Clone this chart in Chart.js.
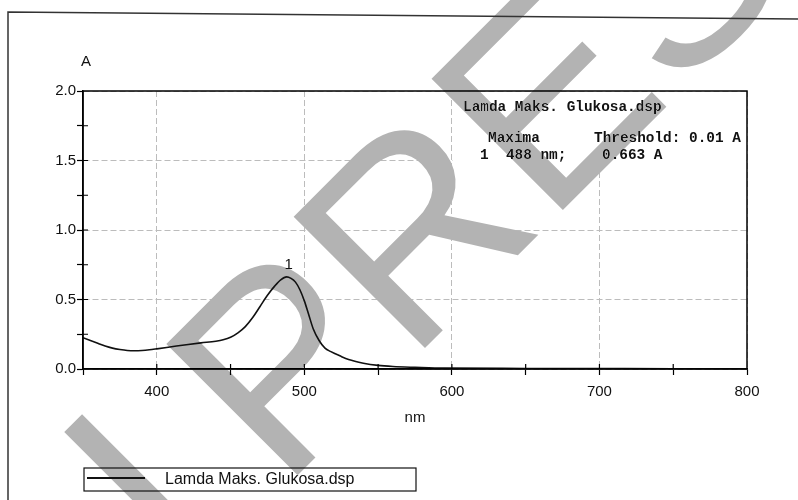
<!DOCTYPE html>
<html>
<head>
<meta charset="utf-8">
<script src="https://cdn.jsdelivr.net/npm/chart.js@4.4.1/dist/chart.umd.min.js"></script>
<style>
  body { margin: 0; background: #fff; }
  canvas { display: block; }
</style>
</head>
<body>
<canvas id="spectrum" width="798" height="500"></canvas>
<script>
// Spectrum data (nm vs absorbance)
const wavelengths = [350, 355, 360, 365, 370, 375, 380, 385, 390, 395, 400, 410, 420, 430, 440, 445, 450, 455, 460, 465, 470, 475, 480, 484, 488, 491, 494, 497, 500, 503, 506, 510, 514, 518, 524, 530, 540, 550, 560, 575, 595, 650, 700, 750, 800];
const absorbance = [0.225, 0.205, 0.185, 0.165, 0.150, 0.140, 0.133, 0.131, 0.133, 0.138, 0.145, 0.160, 0.175, 0.188, 0.200, 0.210, 0.228, 0.26, 0.305, 0.37, 0.45, 0.53, 0.598, 0.642, 0.663, 0.652, 0.625, 0.57, 0.49, 0.39, 0.29, 0.205, 0.15, 0.125, 0.095, 0.068, 0.042, 0.026, 0.018, 0.012, 0.006, 0.004, 0.003, 0.002, 0.002];
const seriesLabel = "Lamda Maks. Glukosa.dsp";

const peakNm = [488];
const peakAbs = [0.663];
const peakLabels = ["1"];

const infoTitle = "Lamda Maks. Glukosa.dsp";
const infoRow1 = ["Maxima", "Threshold: 0.01 A"];
const infoRow2 = ["1  488 nm;", "0.663 A"];

const xMin = 350, xMax = 800, xStep = 50;
const yMin = 0, yMax = 2, yStep = 0.25;

const points = wavelengths.map((w, i) => ({ x: w, y: absorbance[i] }));

const FONT = '"Liberation Sans", Arial, sans-serif';
const MONO = '"Liberation Mono", "Courier New", monospace';

// major ticks get gridlines, minor ones only a tick mark
function gridColor(major) {
    return (c) => (c.tick && c.tick.value % major === 0) ? '#bcbcbc' : 'transparent';
}

function watermark(ctx, text, ox, oy) {
    ctx.save();
    ctx.translate(ox, oy);
    ctx.rotate(-Math.PI / 4);
    ctx.fillText(text, 0, 0);
    ctx.restore();
}

const decorations = {
    id: 'decorations',
    beforeDatasetsDraw(chart) {
        const { ctx, chartArea, scales } = chart;
        // white panel behind the maxima text (hides grid there)
        const x0 = scales.x.getPixelForValue(600) + 1;
        ctx.save();
        ctx.fillStyle = '#fff';
        ctx.fillRect(x0, chartArea.top + 1, chartArea.right - x0 - 1, 74);
        ctx.restore();
    },
    afterDraw(chart) {
        const { ctx, chartArea, scales } = chart;
        const xs = scales.x, ys = scales.y;
        ctx.save();

        // outer page frame
        ctx.strokeStyle = '#333';
        ctx.lineWidth = 1.5;
        ctx.beginPath();
        ctx.moveTo(8, 500);
        ctx.lineTo(8, 12);
        ctx.lineTo(798, 19);
        ctx.stroke();

        // plot box
        ctx.strokeStyle = '#000';
        ctx.lineWidth = 1.5;
        ctx.strokeRect(chartArea.left, chartArea.top, chartArea.right - chartArea.left, chartArea.bottom - chartArea.top);

        // inner halves of tick marks
        ctx.lineWidth = 1.2;
        ctx.beginPath();
        for (let v = yMin + yStep; v < yMax; v += yStep) {
            const py = ys.getPixelForValue(v);
            ctx.moveTo(chartArea.left, py);
            ctx.lineTo(chartArea.left + 5, py);
        }
        for (let v = xMin + xStep; v < xMax; v += xStep) {
            const px = xs.getPixelForValue(v);
            ctx.moveTo(px, chartArea.bottom);
            ctx.lineTo(px, chartArea.bottom - 5);
        }
        ctx.stroke();

        // axis titles
        ctx.fillStyle = '#111';
        ctx.font = '15px ' + FONT;
        ctx.textAlign = 'center';
        ctx.textBaseline = 'middle';
        ctx.fillText('A', 86, 62);
        ctx.fillText('nm', 415, 418);

        // peak labels
        peakNm.forEach((w, i) => {
            ctx.fillText(peakLabels[i], xs.getPixelForValue(w) + 2, ys.getPixelForValue(peakAbs[i]) - 12);
        });

        // maxima text block
        ctx.font = 'bold 14.4px ' + MONO;
        ctx.textAlign = 'left';
        ctx.fillText(infoTitle, 463, 107);
        ctx.fillText(infoRow1[0], 488, 138);
        ctx.fillText(infoRow1[1], 594, 138);
        ctx.fillText(infoRow2[0], 480, 155);
        ctx.fillText(infoRow2[1], 602, 155);

        // legend box
        ctx.strokeStyle = '#111';
        ctx.lineWidth = 1.2;
        ctx.strokeRect(84, 468, 332, 23);
        ctx.lineWidth = 1.8;
        ctx.beginPath();
        ctx.moveTo(87, 478);
        ctx.lineTo(145, 478);
        ctx.stroke();
        ctx.font = '16px ' + FONT;
        ctx.fillText(chart.data.datasets[0].label, 165, 480);

        // watermark, darkened over the drawing like the scan
        ctx.globalCompositeOperation = 'darken';
        ctx.fillStyle = '#b3b3b3';
        ctx.font = '270px ' + FONT;
        ctx.textAlign = 'left';
        ctx.textBaseline = 'alphabetic';
        watermark(ctx, 'I', 178, 581);
        watermark(ctx, 'PRES', 282, 491);

        ctx.restore();
    }
};

new Chart(document.getElementById('spectrum'), {
    type: 'line',
    data: {
        datasets: [{
            label: seriesLabel,
            data: points,
            borderColor: '#111',
            borderWidth: 1.6,
            pointRadius: 0,
            tension: 0.4,
            cubicInterpolationMode: 'monotone',
            fill: false
        }]
    },
    options: {
        responsive: false,
        animation: false,
        layout: { padding: { top: 91, right: 51, left: 0, bottom: 0 } },
        plugins: {
            legend: { display: false },
            tooltip: { enabled: false }
        },
        scales: {
            x: {
                type: 'linear',
                min: xMin,
                max: xMax,
                afterFit: (s) => { s.height = 131; },
                ticks: {
                    stepSize: xStep,
                    autoSkip: false,
                    maxRotation: 0,
                    color: '#111',
                    font: { size: 15, family: FONT },
                    padding: 8,
                    callback: (v) => (v % 100 === 0 && v !== xMin) ? String(v) : ''
                },
                grid: { color: gridColor(100), lineWidth: 1, tickColor: '#000', tickLength: 6, tickWidth: 1.2 },
                border: { color: '#000', width: 1.5, dash: [6, 3] }
            },
            y: {
                min: yMin,
                max: yMax,
                afterFit: (s) => { s.width = 83; },
                ticks: {
                    stepSize: yStep,
                    autoSkip: false,
                    color: '#111',
                    font: { size: 15, family: FONT },
                    padding: 1,
                    callback: (v) => (v % 0.5 === 0) ? v.toFixed(1) : ''
                },
                grid: { color: gridColor(0.5), lineWidth: 1, tickColor: '#000', tickLength: 6, tickWidth: 1.2 },
                border: { color: '#000', width: 1.5, dash: [6, 3] }
            }
        }
    },
    plugins: [decorations]
});
</script>
</body>
</html>
